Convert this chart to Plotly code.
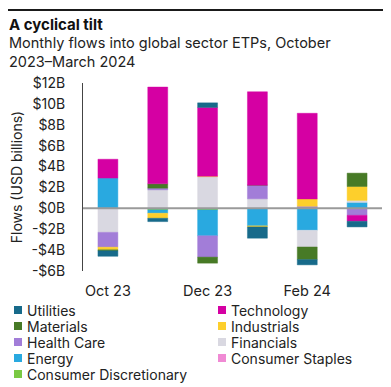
import plotly.graph_objects as go

months = ["Oct 23", "Nov 23", "Dec 23", "Jan 24", "Feb 24", "Mar 24"]
tick_months = ["Oct 23", "Dec 23", "Feb 24"]

# Flows in USD billions (stacking order = alphabetical)
consumer_discretionary = [0.0, -0.15, -0.15, 0.0, 0.0, 0.0]
consumer_staples = [0.0, 0.0, 0.0, 0.0, 0.0, 0.0]
energy = [2.9, -0.32, -2.48, -1.68, -2.1, 0.57]
financials = [-2.3, 1.77, 3.03, 0.91, -1.6, 0.19]
health_care = [-1.42, 0.16, -2.04, 1.31, 0.2, -0.67]
industrials = [-0.25, -0.48, 0.05, -0.1, 0.7, 1.33]
materials = [-0.1, 0.42, -0.58, 0.0, -1.21, 1.28]
technology = [1.8, 9.26, 6.58, 8.94, 8.2, -0.57]
utilities = [-0.52, -0.32, 0.44, -1.08, -0.5, -0.54]

series = [
    ("Consumer Discretionary", consumer_discretionary, "#7ac943"),
    ("Consumer Staples", consumer_staples, "#f08ad4"),
    ("Energy", energy, "#29a9e0"),
    ("Financials", financials, "#d9d8e1"),
    ("Health Care", health_care, "#a27dd8"),
    ("Industrials", industrials, "#fdcf2c"),
    ("Materials", materials, "#477a26"),
    ("Technology", technology, "#d500a3"),
    ("Utilities", utilities, "#176a8a"),
]

y_ticks = [-6, -4, -2, 0, 2, 4, 6, 8, 10, 12]
y_ticktext = [("-$%dB" % -v) if v < 0 else ("$%dB" % v) for v in y_ticks]

W, H = 391, 387
L, R, T, B = 75, 17, 75, 124
PW, PH = W - L - R, H - T - B


def lx(x):  # layout pixel -> paper
    return (x - L) / PW


def ly(y):
    return (H - B - y) / PH


def hex_rgba(h, a):
    h = h.lstrip("#")
    return "rgba(%d,%d,%d,%s)" % (int(h[0:2], 16), int(h[2:4], 16), int(h[4:6], 16), a)


FONT = "Inter"
TXT = "#222222"

fig = go.Figure()
for name, vals, col in series:
    fig.add_trace(go.Bar(
        x=months, y=vals, name=name,
        marker=dict(color=col, line=dict(color=hex_rgba(col, 0.45), width=1)),
        showlegend=False,
    ))

# all positions below are in layout pixels (screen minus 8px page margin)
shapes = [
    dict(type="rect", xref="paper", yref="paper", x0=lx(0), x1=lx(W),
         y0=ly(3), y1=ly(1), fillcolor="#1a1a1a", line=dict(width=0)),
    dict(type="line", xref="paper", yref="y", x0=0, x1=1, y0=0, y1=0,
         line=dict(color="#9a9a9a", width=2), layer="above"),
]

annotations = [
    # top rule
    dict(text=" ", x=lx(0), y=ly(2), xref="paper", yref="paper",
         xanchor="left", yanchor="middle", showarrow=False,
         width=W, height=2, borderpad=0, borderwidth=0, bgcolor="#1a1a1a",
         font=dict(size=1)),
    dict(text="A cyclical tilt", x=lx(-1), y=ly(16), xref="paper", yref="paper",
         xanchor="left", yanchor="middle", showarrow=False,
         font=dict(family=FONT, size=15, color="#111111", weight="bold")),
    dict(text="Monthly flows into global sector ETPs, October<br>2023\u2013March 2024",
         x=lx(-1), y=ly(44), xref="paper", yref="paper", align="left",
         xanchor="left", yanchor="middle", showarrow=False,
         font=dict(family=FONT, size=14.5, color=TXT)),
]

# legend (reverse alphabetical, two columns)
legend_items = list(reversed(series))
for i, (name, vals, col) in enumerate(legend_items):
    row, colm = divmod(i, 2)
    yc = 302 + 16 * row
    xs = 6 if colm == 0 else 210
    shapes.append(dict(type="rect", xref="paper", yref="paper",
                       x0=lx(xs), x1=lx(xs + 8), y0=ly(yc + 4), y1=ly(yc - 4),
                       fillcolor=col, line=dict(width=0)))
    annotations.append(dict(text=name, x=lx(xs + 11), y=ly(yc), xref="paper", yref="paper",
                            xanchor="left", yanchor="middle", showarrow=False,
                            font=dict(family=FONT, size=14, color=TXT)))

fig.update_layout(
    width=W, height=H,
    margin=dict(l=L, r=R, t=T, b=B, autoexpand=False),
    paper_bgcolor="white", plot_bgcolor="white",
    barmode="relative", bargap=0.6,
    font=dict(family=FONT, size=14, color=TXT),
    annotations=annotations, shapes=shapes,
    xaxis=dict(type="category", categoryorder="array", categoryarray=months,
               tickmode="array", tickvals=tick_months, ticktext=tick_months,
               showline=False, showgrid=False, zeroline=False, ticks="",
               ticklabelstandoff=9, tickfont=dict(size=14.5)),
    yaxis=dict(range=[-6, 12], tickmode="array", tickvals=y_ticks, ticktext=y_ticktext,
               showline=True, linecolor="#444444", linewidth=1, showgrid=False,
               zeroline=False, ticks="", ticklabelstandoff=14,
               title=dict(text="Flows (USD billions)", standoff=10, font=dict(size=14))),
)

fig.write_html("out.html")
